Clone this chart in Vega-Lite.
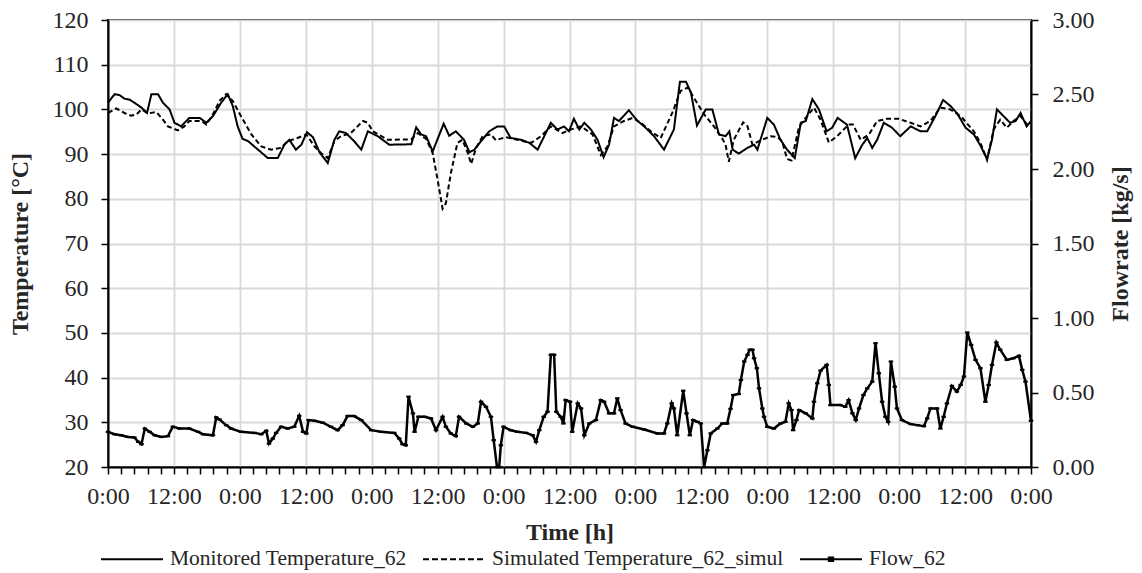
{
  "$schema": "https://vega.github.io/schema/vega-lite/v6.json",
  "width": 923,
  "height": 447,
  "autosize": {"type": "none"},
  "padding": {"left": 108, "top": 20, "right": 111, "bottom": 106},
  "background": "white",
  "config": {
    "view": {"stroke": "black", "strokeWidth": 2},
    "font": "'Liberation Serif', 'Times New Roman', serif",
    "axis": {
      "labelFont": "'Liberation Serif', 'Times New Roman', serif",
      "labelFontSize": 24,
      "labelColor": "#262626",
      "titleFont": "'Liberation Serif', 'Times New Roman', serif",
      "titleFontSize": 24,
      "titleFontWeight": "bold",
      "titleColor": "#262626",
      "domainColor": "black",
      "domainWidth": 2,
      "tickColor": "black",
      "tickWidth": 1.5,
      "tickSize": 7,
      "gridColor": "#d9d9d9",
      "gridWidth": 1.8
    }
  },
  "datasets": {
    "temp": [
      {"t":0,"series":"Monitored Temperature_62","T":101.5},{"t":1.2,"series":"Monitored Temperature_62","T":103.4},{"t":2.1,"series":"Monitored Temperature_62","T":103.2},{"t":3,"series":"Monitored Temperature_62","T":102.4},{"t":3.9,"series":"Monitored Temperature_62","T":102.2},{"t":4.8,"series":"Monitored Temperature_62","T":101.5},{"t":6.1,"series":"Monitored Temperature_62","T":100.4},{"t":7.1,"series":"Monitored Temperature_62","T":99.2},{"t":7.9,"series":"Monitored Temperature_62","T":103.4},{"t":9.1,"series":"Monitored Temperature_62","T":103.4},{"t":10,"series":"Monitored Temperature_62","T":101.5},{"t":11.2,"series":"Monitored Temperature_62","T":100},{"t":12.1,"series":"Monitored Temperature_62","T":97},{"t":13.3,"series":"Monitored Temperature_62","T":96.2},{"t":14.8,"series":"Monitored Temperature_62","T":98.1},{"t":16.7,"series":"Monitored Temperature_62","T":98.1},{"t":17.9,"series":"Monitored Temperature_62","T":97},{"t":19.1,"series":"Monitored Temperature_62","T":98.5},{"t":20.6,"series":"Monitored Temperature_62","T":101.5},{"t":21.8,"series":"Monitored Temperature_62","T":103.4},{"t":22.7,"series":"Monitored Temperature_62","T":100.8},{"t":23.6,"series":"Monitored Temperature_62","T":96.2},{"t":24.5,"series":"Monitored Temperature_62","T":93.4},{"t":25.5,"series":"Monitored Temperature_62","T":92.9},{"t":27.3,"series":"Monitored Temperature_62","T":91},{"t":29.1,"series":"Monitored Temperature_62","T":89.1},{"t":30.9,"series":"Monitored Temperature_62","T":89.1},{"t":32.1,"series":"Monitored Temperature_62","T":92.1},{"t":33,"series":"Monitored Temperature_62","T":93.2},{"t":34.2,"series":"Monitored Temperature_62","T":91},{"t":35.2,"series":"Monitored Temperature_62","T":92.1},{"t":36.2,"series":"Monitored Temperature_62","T":94.9},{"t":37.3,"series":"Monitored Temperature_62","T":93.8},{"t":38.5,"series":"Monitored Temperature_62","T":90.4},{"t":40,"series":"Monitored Temperature_62","T":88},{"t":41.2,"series":"Monitored Temperature_62","T":93.2},{"t":42.1,"series":"Monitored Temperature_62","T":95.1},{"t":43.3,"series":"Monitored Temperature_62","T":94.7},{"t":44.8,"series":"Monitored Temperature_62","T":92.9},{"t":46.1,"series":"Monitored Temperature_62","T":91},{"t":47.3,"series":"Monitored Temperature_62","T":95.1},{"t":49.1,"series":"Monitored Temperature_62","T":94},{"t":51.2,"series":"Monitored Temperature_62","T":92.1},{"t":55.2,"series":"Monitored Temperature_62","T":92.2},{"t":56.1,"series":"Monitored Temperature_62","T":96},{"t":57,"series":"Monitored Temperature_62","T":94.4},{"t":57.9,"series":"Monitored Temperature_62","T":94},{"t":59.1,"series":"Monitored Temperature_62","T":90.6},{"t":61.1,"series":"Monitored Temperature_62","T":96.8},{"t":62.1,"series":"Monitored Temperature_62","T":94.1},{"t":63.3,"series":"Monitored Temperature_62","T":95.1},{"t":64.8,"series":"Monitored Temperature_62","T":93.2},{"t":65.8,"series":"Monitored Temperature_62","T":90.4},{"t":66.7,"series":"Monitored Temperature_62","T":91},{"t":67.9,"series":"Monitored Temperature_62","T":92.9},{"t":69.4,"series":"Monitored Temperature_62","T":95.1},{"t":70.9,"series":"Monitored Temperature_62","T":96.2},{"t":72.1,"series":"Monitored Temperature_62","T":96.2},{"t":73.3,"series":"Monitored Temperature_62","T":93.6},{"t":75.2,"series":"Monitored Temperature_62","T":93.2},{"t":76.7,"series":"Monitored Temperature_62","T":92.5},{"t":78.2,"series":"Monitored Temperature_62","T":91},{"t":79.4,"series":"Monitored Temperature_62","T":94},{"t":80.6,"series":"Monitored Temperature_62","T":97},{"t":81.8,"series":"Monitored Temperature_62","T":95.5},{"t":83,"series":"Monitored Temperature_62","T":96.2},{"t":83.9,"series":"Monitored Temperature_62","T":95.1},{"t":84.8,"series":"Monitored Temperature_62","T":97.9},{"t":85.8,"series":"Monitored Temperature_62","T":95.5},{"t":86.7,"series":"Monitored Temperature_62","T":97},{"t":87.9,"series":"Monitored Temperature_62","T":95.5},{"t":89.1,"series":"Monitored Temperature_62","T":93.2},{"t":90.2,"series":"Monitored Temperature_62","T":89.3},{"t":91.2,"series":"Monitored Temperature_62","T":92.1},{"t":92.1,"series":"Monitored Temperature_62","T":98.1},{"t":93,"series":"Monitored Temperature_62","T":97.4},{"t":94.8,"series":"Monitored Temperature_62","T":99.8},{"t":96.4,"series":"Monitored Temperature_62","T":97.4},{"t":97.6,"series":"Monitored Temperature_62","T":96.2},{"t":99.4,"series":"Monitored Temperature_62","T":94},{"t":101.2,"series":"Monitored Temperature_62","T":91},{"t":103,"series":"Monitored Temperature_62","T":95.5},{"t":104.1,"series":"Monitored Temperature_62","T":106.2},{"t":105.2,"series":"Monitored Temperature_62","T":106.2},{"t":106.1,"series":"Monitored Temperature_62","T":103.8},{"t":107.2,"series":"Monitored Temperature_62","T":96.4},{"t":108.8,"series":"Monitored Temperature_62","T":100},{"t":110,"series":"Monitored Temperature_62","T":100},{"t":111.2,"series":"Monitored Temperature_62","T":94.4},{"t":112.4,"series":"Monitored Temperature_62","T":94},{"t":113.1,"series":"Monitored Temperature_62","T":95.1},{"t":113.7,"series":"Monitored Temperature_62","T":91},{"t":114.8,"series":"Monitored Temperature_62","T":90.1},{"t":116.4,"series":"Monitored Temperature_62","T":91.4},{"t":117.6,"series":"Monitored Temperature_62","T":92.1},{"t":118.2,"series":"Monitored Temperature_62","T":91},{"t":120,"series":"Monitored Temperature_62","T":98.1},{"t":121.2,"series":"Monitored Temperature_62","T":96.6},{"t":122.4,"series":"Monitored Temperature_62","T":93.2},{"t":123.6,"series":"Monitored Temperature_62","T":91},{"t":125,"series":"Monitored Temperature_62","T":89.1},{"t":126.1,"series":"Monitored Temperature_62","T":97},{"t":127,"series":"Monitored Temperature_62","T":97.4},{"t":128.2,"series":"Monitored Temperature_62","T":102.3},{"t":129.4,"series":"Monitored Temperature_62","T":100},{"t":130.8,"series":"Monitored Temperature_62","T":95.1},{"t":131.8,"series":"Monitored Temperature_62","T":95.9},{"t":132.8,"series":"Monitored Temperature_62","T":98.1},{"t":134.5,"series":"Monitored Temperature_62","T":96.6},{"t":136,"series":"Monitored Temperature_62","T":89.1},{"t":137.3,"series":"Monitored Temperature_62","T":92.1},{"t":138.2,"series":"Monitored Temperature_62","T":93.6},{"t":139.1,"series":"Monitored Temperature_62","T":91.4},{"t":140,"series":"Monitored Temperature_62","T":93.2},{"t":141.2,"series":"Monitored Temperature_62","T":97},{"t":142.7,"series":"Monitored Temperature_62","T":95.9},{"t":144.2,"series":"Monitored Temperature_62","T":94},{"t":146.1,"series":"Monitored Temperature_62","T":96.2},{"t":147.9,"series":"Monitored Temperature_62","T":95.1},{"t":149.1,"series":"Monitored Temperature_62","T":95.1},{"t":150.6,"series":"Monitored Temperature_62","T":98.5},{"t":152,"series":"Monitored Temperature_62","T":102.1},{"t":153.3,"series":"Monitored Temperature_62","T":100.8},{"t":154.5,"series":"Monitored Temperature_62","T":99.2},{"t":156.1,"series":"Monitored Temperature_62","T":95.9},{"t":157.6,"series":"Monitored Temperature_62","T":94.4},{"t":158.8,"series":"Monitored Temperature_62","T":91.9},{"t":160,"series":"Monitored Temperature_62","T":88.9},{"t":160.9,"series":"Monitored Temperature_62","T":93.2},{"t":161.8,"series":"Monitored Temperature_62","T":100},{"t":163,"series":"Monitored Temperature_62","T":98.5},{"t":164.2,"series":"Monitored Temperature_62","T":97},{"t":165.2,"series":"Monitored Temperature_62","T":97.4},{"t":166.1,"series":"Monitored Temperature_62","T":99.2},{"t":167.2,"series":"Monitored Temperature_62","T":96.2},{"t":168,"series":"Monitored Temperature_62","T":97.4},
      {"t":0,"series":"Simulated Temperature_62_simul","T":99.2},{"t":1.5,"series":"Simulated Temperature_62_simul","T":100.2},{"t":3,"series":"Simulated Temperature_62_simul","T":99.2},{"t":4.2,"series":"Simulated Temperature_62_simul","T":98.6},{"t":5.2,"series":"Simulated Temperature_62_simul","T":98.9},{"t":6.1,"series":"Simulated Temperature_62_simul","T":100},{"t":7.3,"series":"Simulated Temperature_62_simul","T":99.1},{"t":8.8,"series":"Simulated Temperature_62_simul","T":99.4},{"t":10,"series":"Simulated Temperature_62_simul","T":97.7},{"t":10.9,"series":"Simulated Temperature_62_simul","T":96.2},{"t":12.7,"series":"Simulated Temperature_62_simul","T":95.3},{"t":13.9,"series":"Simulated Temperature_62_simul","T":96.2},{"t":14.8,"series":"Simulated Temperature_62_simul","T":97.4},{"t":17,"series":"Simulated Temperature_62_simul","T":97.4},{"t":17.9,"series":"Simulated Temperature_62_simul","T":96.6},{"t":19.1,"series":"Simulated Temperature_62_simul","T":98.9},{"t":20.3,"series":"Simulated Temperature_62_simul","T":101.9},{"t":21.5,"series":"Simulated Temperature_62_simul","T":103.4},{"t":22.7,"series":"Simulated Temperature_62_simul","T":101.9},{"t":24.2,"series":"Simulated Temperature_62_simul","T":98.5},{"t":26.1,"series":"Simulated Temperature_62_simul","T":94.4},{"t":27.9,"series":"Simulated Temperature_62_simul","T":91.7},{"t":29.7,"series":"Simulated Temperature_62_simul","T":91},{"t":31.5,"series":"Simulated Temperature_62_simul","T":91.4},{"t":32.7,"series":"Simulated Temperature_62_simul","T":92.9},{"t":34.5,"series":"Simulated Temperature_62_simul","T":93.6},{"t":36.1,"series":"Simulated Temperature_62_simul","T":94.4},{"t":37.6,"series":"Simulated Temperature_62_simul","T":91.7},{"t":38.8,"series":"Simulated Temperature_62_simul","T":90.2},{"t":40,"series":"Simulated Temperature_62_simul","T":89.1},{"t":41.2,"series":"Simulated Temperature_62_simul","T":92.9},{"t":42.4,"series":"Simulated Temperature_62_simul","T":94},{"t":44.2,"series":"Simulated Temperature_62_simul","T":94.7},{"t":46.4,"series":"Simulated Temperature_62_simul","T":97.4},{"t":47.3,"series":"Simulated Temperature_62_simul","T":97},{"t":48.2,"series":"Simulated Temperature_62_simul","T":95.1},{"t":50.9,"series":"Simulated Temperature_62_simul","T":93.2},{"t":55.2,"series":"Simulated Temperature_62_simul","T":93.3},{"t":56.4,"series":"Simulated Temperature_62_simul","T":94.7},{"t":57.9,"series":"Simulated Temperature_62_simul","T":93.4},{"t":59.1,"series":"Simulated Temperature_62_simul","T":90.2},{"t":60,"series":"Simulated Temperature_62_simul","T":84.2},{"t":60.9,"series":"Simulated Temperature_62_simul","T":77.8},{"t":61.5,"series":"Simulated Temperature_62_simul","T":79},{"t":62.4,"series":"Simulated Temperature_62_simul","T":85.7},{"t":63.6,"series":"Simulated Temperature_62_simul","T":92.5},{"t":64.5,"series":"Simulated Temperature_62_simul","T":93.2},{"t":65.5,"series":"Simulated Temperature_62_simul","T":90.2},{"t":66.1,"series":"Simulated Temperature_62_simul","T":87.8},{"t":67,"series":"Simulated Temperature_62_simul","T":91.4},{"t":68.2,"series":"Simulated Temperature_62_simul","T":94},{"t":69.7,"series":"Simulated Temperature_62_simul","T":94.4},{"t":70.6,"series":"Simulated Temperature_62_simul","T":93.1},{"t":72.4,"series":"Simulated Temperature_62_simul","T":93.8},{"t":74.5,"series":"Simulated Temperature_62_simul","T":93.2},{"t":77,"series":"Simulated Temperature_62_simul","T":92.5},{"t":78.8,"series":"Simulated Temperature_62_simul","T":94},{"t":80.6,"series":"Simulated Temperature_62_simul","T":96.2},{"t":82.7,"series":"Simulated Temperature_62_simul","T":94.7},{"t":84.2,"series":"Simulated Temperature_62_simul","T":95.5},{"t":86.1,"series":"Simulated Temperature_62_simul","T":96.2},{"t":88.2,"series":"Simulated Temperature_62_simul","T":94.4},{"t":89.7,"series":"Simulated Temperature_62_simul","T":89.8},{"t":90.9,"series":"Simulated Temperature_62_simul","T":91.7},{"t":92.1,"series":"Simulated Temperature_62_simul","T":96.2},{"t":93.9,"series":"Simulated Temperature_62_simul","T":97.4},{"t":95.5,"series":"Simulated Temperature_62_simul","T":98.1},{"t":97,"series":"Simulated Temperature_62_simul","T":97},{"t":98.8,"series":"Simulated Temperature_62_simul","T":95.1},{"t":100.6,"series":"Simulated Temperature_62_simul","T":93.6},{"t":102.7,"series":"Simulated Temperature_62_simul","T":99.2},{"t":104.2,"series":"Simulated Temperature_62_simul","T":104.1},{"t":105.5,"series":"Simulated Temperature_62_simul","T":104.9},{"t":107,"series":"Simulated Temperature_62_simul","T":101.9},{"t":108.5,"series":"Simulated Temperature_62_simul","T":98.9},{"t":110.3,"series":"Simulated Temperature_62_simul","T":96.2},{"t":111.8,"series":"Simulated Temperature_62_simul","T":93.5},{"t":112.4,"series":"Simulated Temperature_62_simul","T":92.1},{"t":113,"series":"Simulated Temperature_62_simul","T":88.3},{"t":113.9,"series":"Simulated Temperature_62_simul","T":93.2},{"t":115.6,"series":"Simulated Temperature_62_simul","T":97.1},{"t":116.4,"series":"Simulated Temperature_62_simul","T":96.2},{"t":117.3,"series":"Simulated Temperature_62_simul","T":92.1},{"t":118.5,"series":"Simulated Temperature_62_simul","T":92.9},{"t":120.6,"series":"Simulated Temperature_62_simul","T":94},{"t":121.8,"series":"Simulated Temperature_62_simul","T":93.8},{"t":122.7,"series":"Simulated Temperature_62_simul","T":92.9},{"t":123.6,"series":"Simulated Temperature_62_simul","T":88.9},{"t":124.4,"series":"Simulated Temperature_62_simul","T":88.6},{"t":125.8,"series":"Simulated Temperature_62_simul","T":96.2},{"t":127,"series":"Simulated Temperature_62_simul","T":98.1},{"t":128.5,"series":"Simulated Temperature_62_simul","T":100.4},{"t":129.7,"series":"Simulated Temperature_62_simul","T":97.7},{"t":131.2,"series":"Simulated Temperature_62_simul","T":92.6},{"t":132.7,"series":"Simulated Temperature_62_simul","T":94},{"t":134.8,"series":"Simulated Temperature_62_simul","T":96.6},{"t":135.6,"series":"Simulated Temperature_62_simul","T":96.6},{"t":137,"series":"Simulated Temperature_62_simul","T":93.2},{"t":138.5,"series":"Simulated Temperature_62_simul","T":94.4},{"t":140,"series":"Simulated Temperature_62_simul","T":97.4},{"t":141.8,"series":"Simulated Temperature_62_simul","T":97.9},{"t":143.9,"series":"Simulated Temperature_62_simul","T":97.9},{"t":146.1,"series":"Simulated Temperature_62_simul","T":97},{"t":147.9,"series":"Simulated Temperature_62_simul","T":96.2},{"t":149.7,"series":"Simulated Temperature_62_simul","T":97.4},{"t":151.5,"series":"Simulated Temperature_62_simul","T":100.4},{"t":153.3,"series":"Simulated Temperature_62_simul","T":100},{"t":155.2,"series":"Simulated Temperature_62_simul","T":98.5},{"t":157.6,"series":"Simulated Temperature_62_simul","T":95.1},{"t":158.8,"series":"Simulated Temperature_62_simul","T":92.5},{"t":160,"series":"Simulated Temperature_62_simul","T":88.7},{"t":161.2,"series":"Simulated Temperature_62_simul","T":95.5},{"t":162.4,"series":"Simulated Temperature_62_simul","T":97.7},{"t":163.6,"series":"Simulated Temperature_62_simul","T":95.9},{"t":164.8,"series":"Simulated Temperature_62_simul","T":97.4},{"t":166.1,"series":"Simulated Temperature_62_simul","T":98.5},{"t":167.3,"series":"Simulated Temperature_62_simul","T":96.6},{"t":168,"series":"Simulated Temperature_62_simul","T":97}
    ],
    "flow": [
      {"t":0,"F":0.236},{"t":1.2,"F":0.22},{"t":2.4,"F":0.213},{"t":3.6,"F":0.202},{"t":4.8,"F":0.198},{"t":5.5,"F":0.169},{"t":6.1,"F":0.153},{"t":6.7,"F":0.258},{"t":7.6,"F":0.236},{"t":8.5,"F":0.213},{"t":9.7,"F":0.202},{"t":10.9,"F":0.207},{"t":11.8,"F":0.27},{"t":13,"F":0.258},{"t":14.8,"F":0.258},{"t":16.4,"F":0.236},{"t":17.3,"F":0.22},{"t":19.1,"F":0.213},{"t":19.7,"F":0.333},{"t":20.3,"F":0.319},{"t":21.5,"F":0.281},{"t":22.4,"F":0.258},{"t":24.2,"F":0.236},{"t":26.7,"F":0.229},{"t":27.9,"F":0.22},{"t":28.8,"F":0.243},{"t":29.3,"F":0.157},{"t":30,"F":0.191},{"t":30.6,"F":0.229},{"t":31.5,"F":0.27},{"t":32.7,"F":0.258},{"t":33.9,"F":0.27},{"t":34.8,"F":0.344},{"t":35.5,"F":0.236},{"t":36.1,"F":0.225},{"t":36.5,"F":0.315},{"t":37.6,"F":0.31},{"t":39.1,"F":0.297},{"t":40.6,"F":0.27},{"t":41.8,"F":0.247},{"t":42.7,"F":0.281},{"t":43.6,"F":0.342},{"t":44.8,"F":0.342},{"t":46.1,"F":0.315},{"t":47.9,"F":0.247},{"t":49.7,"F":0.236},{"t":52.1,"F":0.229},{"t":53,"F":0.191},{"t":53.6,"F":0.153},{"t":54.2,"F":0.146},{"t":54.7,"F":0.472},{"t":55.5,"F":0.36},{"t":55.8,"F":0.236},{"t":56.5,"F":0.337},{"t":57.6,"F":0.337},{"t":58.8,"F":0.326},{"t":59.7,"F":0.247},{"t":60.9,"F":0.337},{"t":61.5,"F":0.27},{"t":62.4,"F":0.225},{"t":63.3,"F":0.207},{"t":63.9,"F":0.337},{"t":65.2,"F":0.292},{"t":66.4,"F":0.27},{"t":67.3,"F":0.292},{"t":67.9,"F":0.438},{"t":68.8,"F":0.404},{"t":69.7,"F":0.337},{"t":70.2,"F":0.18},{"t":70.8,"F":0},{"t":71.2,"F":0},{"t":71.5,"F":0.146},{"t":72,"F":0.27},{"t":73.3,"F":0.247},{"t":74.5,"F":0.236},{"t":76.1,"F":0.229},{"t":77.3,"F":0.213},{"t":77.9,"F":0.169},{"t":78.5,"F":0.247},{"t":79.3,"F":0.337},{"t":80,"F":0.371},{"t":80.6,"F":0.753},{"t":81.2,"F":0.753},{"t":81.6,"F":0.371},{"t":82.4,"F":0.337},{"t":82.9,"F":0.292},{"t":83.3,"F":0.449},{"t":84.1,"F":0.438},{"t":84.5,"F":0.236},{"t":85.5,"F":0.427},{"t":86.1,"F":0.393},{"t":86.7,"F":0.213},{"t":87.6,"F":0.292},{"t":88.8,"F":0.315},{"t":89.7,"F":0.449},{"t":90.3,"F":0.438},{"t":91.2,"F":0.36},{"t":92.1,"F":0.36},{"t":92.7,"F":0.461},{"t":93.3,"F":0.382},{"t":94.2,"F":0.292},{"t":95.5,"F":0.27},{"t":97.6,"F":0.252},{"t":100,"F":0.225},{"t":101.2,"F":0.225},{"t":101.8,"F":0.292},{"t":102.6,"F":0.427},{"t":103,"F":0.393},{"t":103.6,"F":0.213},{"t":104.7,"F":0.512},{"t":105.3,"F":0.36},{"t":105.9,"F":0.213},{"t":106.5,"F":0.315},{"t":107.3,"F":0.303},{"t":107.9,"F":0.292},{"t":108.5,"F":0},{"t":109.1,"F":0.112},{"t":109.7,"F":0.225},{"t":110.9,"F":0.258},{"t":111.8,"F":0.292},{"t":112.7,"F":0.292},{"t":113.3,"F":0.39},{"t":113.8,"F":0.483},{"t":114.8,"F":0.49},{"t":115.2,"F":0.584},{"t":115.8,"F":0.708},{"t":116.4,"F":0.753},{"t":116.8,"F":0.787},{"t":117.3,"F":0.787},{"t":117.6,"F":0.73},{"t":118.1,"F":0.663},{"t":118.5,"F":0.528},{"t":119.1,"F":0.393},{"t":119.4,"F":0.337},{"t":120,"F":0.27},{"t":121.2,"F":0.258},{"t":122.4,"F":0.292},{"t":123.3,"F":0.303},{"t":123.9,"F":0.427},{"t":124.4,"F":0.382},{"t":124.7,"F":0.247},{"t":125.3,"F":0.315},{"t":125.8,"F":0.382},{"t":127,"F":0.36},{"t":128.2,"F":0.326},{"t":128.5,"F":0.438},{"t":129.1,"F":0.562},{"t":129.7,"F":0.647},{"t":130.8,"F":0.685},{"t":131.2,"F":0.551},{"t":131.5,"F":0.416},{"t":133.3,"F":0.416},{"t":134.2,"F":0.404},{"t":134.8,"F":0.449},{"t":135.5,"F":0.36},{"t":136.1,"F":0.315},{"t":136.7,"F":0.393},{"t":137.5,"F":0.483},{"t":138.2,"F":0.528},{"t":139.1,"F":0.573},{"t":139.7,"F":0.831},{"t":140.3,"F":0.629},{"t":140.9,"F":0.438},{"t":141.5,"F":0.337},{"t":142,"F":0.303},{"t":142.5,"F":0.708},{"t":143.2,"F":0.539},{"t":143.6,"F":0.393},{"t":144.5,"F":0.315},{"t":146.1,"F":0.288},{"t":147.3,"F":0.281},{"t":148.5,"F":0.274},{"t":149.1,"F":0.326},{"t":149.7,"F":0.393},{"t":150.9,"F":0.393},{"t":151.5,"F":0.258},{"t":152.1,"F":0.337},{"t":152.7,"F":0.427},{"t":153.6,"F":0.544},{"t":154.5,"F":0.506},{"t":155.2,"F":0.551},{"t":155.8,"F":0.607},{"t":156.4,"F":0.903},{"t":157.1,"F":0.82},{"t":157.9,"F":0.719},{"t":158.8,"F":0.663},{"t":159.7,"F":0.438},{"t":160.3,"F":0.551},{"t":160.9,"F":0.685},{"t":161.7,"F":0.836},{"t":162.4,"F":0.787},{"t":163.6,"F":0.719},{"t":164.8,"F":0.73},{"t":165.8,"F":0.746},{"t":166.4,"F":0.652},{"t":167,"F":0.573},{"t":168,"F":0.31}
    ]
  },
  "encoding": {
    "x": {
      "field": "t",
      "type": "quantitative",
      "scale": {"domain": [0, 168], "nice": false, "zero": false},
      "axis": {
        "title": "Time [h]",
        "values": [0,2.4,4.8,7.2,9.6,12,14.4,16.8,19.2,21.6,24,26.4,28.8,31.2,33.6,36,38.4,40.8,43.2,45.6,48,50.4,52.8,55.2,57.6,60,62.4,64.8,67.2,69.6,72,74.4,76.8,79.2,81.6,84,86.4,88.8,91.2,93.6,96,98.4,100.8,103.2,105.6,108,110.4,112.8,115.2,117.6,120,122.4,124.8,127.2,129.6,132,134.4,136.8,139.2,141.6,144,146.4,148.8,151.2,153.6,156,158.4,160.8,163.2,165.6,168],
        "labelExpr": "datum.value % 24 === 0 ? '0:00' : (datum.value % 12 === 0 ? '12:00' : '')",
        "labelOverlap": false,
        "labelFlush": false,
        "labelPadding": 10,
        "titlePadding": 12,
        "grid": true,
        "gridOpacity": {"condition": {"test": "datum.value % 12 === 0", "value": 1}, "value": 0}
      }
    }
  },
  "layer": [
    {
      "data": {"name": "temp"},
      "mark": {"type": "line", "strokeWidth": 2},
      "encoding": {
        "y": {
          "field": "T",
          "type": "quantitative",
          "scale": {"domain": [20, 120], "nice": false, "zero": false},
          "axis": {
            "title": "Temperature [°C]",
            "values": [20,30,40,50,60,70,80,90,100,110,120],
            "labelPadding": 13,
            "titlePadding": 20,
            "grid": true
          }
        },
        "color": {
          "field": "series",
          "type": "nominal",
          "scale": {"domain": ["Monitored Temperature_62", "Simulated Temperature_62_simul", "Flow_62"], "range": ["black", "black", "black"]},
          "legend": {
            "title": null,
            "orient": "none",
            "direction": "horizontal",
            "legendX": -8,
            "legendY": 507,
            "padding": 0,
            "labelFont": "'Liberation Serif', 'Times New Roman', serif",
            "labelFontSize": 21.5,
            "labelColor": "#262626",
            "labelLimit": 500,
            "labelOffset": 6,
            "columnPadding": 12,
            "symbolType": "stroke",
            "symbolSize": 3844,
            "symbolStrokeWidth": 2,
            "symbolStrokeColor": "black",
            "encode": {
              "symbols": {
                "update": {
                  "strokeDash": {"signal": "datum.value === 'Simulated Temperature_62_simul' ? [6,3] : [1,0]"},
                  "shape": {"signal": "datum.value === 'Flow_62' ? 'M-1,0L1,0M-0.07,-0.06L0.07,-0.06L0.07,0.06L-0.07,0.06Z' : 'stroke'"},
                  "fill": {"value": "black"},
                  "stroke": {"value": "black"}
                }
              }
            }
          }
        },
        "strokeDash": {
          "field": "series",
          "type": "nominal",
          "scale": {"domain": ["Monitored Temperature_62", "Simulated Temperature_62_simul"], "range": [[1, 0], [5, 3]]},
          "legend": null
        }
      }
    },
    {
      "data": {"name": "flow"},
      "transform": [{"calculate": "'Flow_62'", "as": "series"}],
      "mark": {
        "type": "line",
        "strokeWidth": 2.5,
        "point": {"shape": "M-1,-0.5L1,-0.5L1,0.5L-1,0.5Z", "size": 20, "filled": true, "color": "black"}
      },
      "encoding": {
        "y": {
          "field": "F",
          "type": "quantitative",
          "scale": {"domain": [0, 3], "nice": false, "zero": false},
          "axis": {
            "orient": "right",
            "title": "Flowrate [kg/s]",
            "titleAngle": 270,
            "titleBaseline": "top",
            "values": [0,0.5,1,1.5,2,2.5,3],
            "format": ".2f",
            "labelPadding": 14,
            "titlePadding": 14,
            "grid": false
          }
        },
        "color": {
          "field": "series",
          "type": "nominal",
          "scale": {"domain": ["Monitored Temperature_62", "Simulated Temperature_62_simul", "Flow_62"], "range": ["black", "black", "black"]}
        }
      }
    }
  ],
  "resolve": {"scale": {"y": "independent"}}
}
